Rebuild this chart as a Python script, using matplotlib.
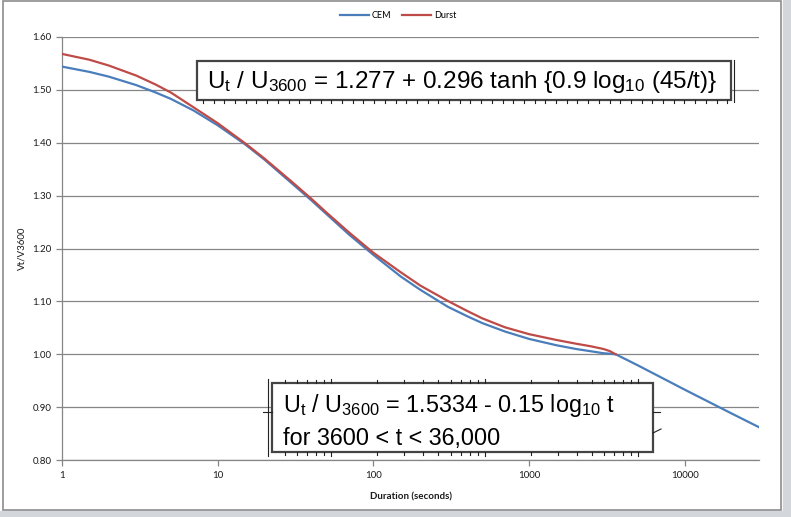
import numpy as np
import matplotlib
matplotlib.use("Agg")
from matplotlib import pyplot as plt
from matplotlib.lines import Line2D
from matplotlib.patches import Rectangle

# values
cem_t = [1, 1.5, 2, 3, 4, 5, 7, 10, 15, 20, 30, 40, 50, 70, 100, 150, 200, 300,
         400, 500, 700, 1000, 1500, 2000, 3000, 3600, 5000, 10000, 20000, 30000]
cem_v = [1.544, 1.534, 1.525, 1.509, 1.495, 1.483, 1.461, 1.433, 1.397, 1.368,
         1.323, 1.291, 1.265, 1.226, 1.188, 1.147, 1.122, 1.090, 1.072, 1.059,
         1.043, 1.029, 1.017, 1.010, 1.002, 1.000, 0.979, 0.933, 0.888, 0.862]

durst_t = [1, 1.5, 2, 3, 4, 5, 7, 10, 15, 20, 30, 40, 50, 70, 100, 150, 200, 300,
           400, 500, 700, 1000, 1500, 2000, 2500, 3000, 3300, 3600]
durst_v = [1.568, 1.557, 1.546, 1.527, 1.510, 1.495, 1.467, 1.437, 1.399, 1.370,
           1.326, 1.294, 1.268, 1.230, 1.192, 1.155, 1.130, 1.101, 1.082, 1.068,
           1.051, 1.038, 1.027, 1.020, 1.015, 1.010, 1.006, 1.000]

y_ticks = [0.80, 0.90, 1.00, 1.10, 1.20, 1.30, 1.40, 1.50, 1.60]
x_ticks = [1, 10, 100, 1000, 10000]

eq_top = "U$_t$ / U$_{3600}$ = 1.277 + 0.296 tanh {0.9 log$_{10}$ (45/t)}"
eq_bottom = "U$_t$ / U$_{3600}$ = 1.5334 - 0.15 log$_{10}$ t\nfor 3600 < t < 36,000"

W, H = 791, 517
plt.rcParams["mathtext.default"] = "regular"
plt.rcParams["font.family"] = ["Lato", "DejaVu Sans"]

fig = plt.figure(figsize=(W / 100, H / 100), dpi=100)
fig.patch.set_facecolor("white")


def fx(px):
    return px / W


def fy(py):
    return 1 - py / H


# window frame around the chart
fig.patches.append(Rectangle((fx(783), 0), fx(8), 1, transform=fig.transFigure,
                             color="#d3d6db", zorder=0))
fig.patches.append(Rectangle((0, 0), 1, fy(511), transform=fig.transFigure,
                             color="#d3d6db", zorder=0))
fig.patches.append(Rectangle((fx(3), fy(510)), fx(778), fy(1) - fy(510),
                             transform=fig.transFigure, fill=False,
                             edgecolor="#8c8c8c", lw=1.2, zorder=1))

ax = fig.add_axes([fx(62), fy(460), fx(759) - fx(62), fy(37) - fy(460)])
ax.set_xscale("log")
ax.plot(cem_t, cem_v, color="#4a7ebb", lw=1.6, label="CEM", zorder=3)
ax.plot(durst_t, durst_v, color="#be4b48", lw=1.6, label="Durst", zorder=4)

ax.set_xlim(1, 30000)
ax.set_ylim(0.80, 1.60)
ax.set_yticks(y_ticks)
ax.set_yticklabels(["%.2f" % v for v in y_ticks])
ax.set_xticks(x_ticks)
ax.set_xticklabels([str(v) for v in x_ticks])
ax.xaxis.set_minor_locator(matplotlib.ticker.NullLocator())
ax.grid(axis="y", color="#868686", lw=0.9)
ax.set_axisbelow(True)
for s in ["top", "right"]:
    ax.spines[s].set_visible(False)
for s in ["left", "bottom"]:
    ax.spines[s].set_color("#868686")
    ax.spines[s].set_linewidth(0.9)
ax.tick_params(axis="both", colors="#868686", labelcolor="#1a1a1a",
               labelsize=7, length=4, width=0.9)
ax.tick_params(axis="x", pad=4)

ax.set_xlabel("Duration (seconds)", fontsize=7, fontweight="bold",
              color="#1a1a1a", labelpad=9)
ax.set_ylabel("Vt/V3600", fontsize=7, color="#1a1a1a", labelpad=4)

leg = fig.legend(loc="center", bbox_to_anchor=(fx(398), fy(16)), ncol=2,
                 frameon=False, fontsize=6.5, handlelength=3.2,
                 columnspacing=1.2, handletextpad=0.3)

# pasted equation boxes
line_kw = dict(transform=fig.transFigure, color="#222222", lw=0.8, zorder=10)

fig.patches.append(Rectangle((fx(197), fy(100)), fx(731) - fx(197), fy(61) - fy(100),
                             transform=fig.transFigure, facecolor="white",
                             edgecolor="#444444", lw=1.6, zorder=8))
fig.lines.append(Line2D([fx(734), fx(734)], [fy(60), fy(102)], **line_kw))
for px in np.arange(203, 733, 10.7):
    fig.lines.append(Line2D([fx(px), fx(px)], [fy(100), fy(103)], **line_kw))
fig.text(fx(207), fy(82), eq_top, fontsize=17.5, family="Liberation Sans",
         va="center", ha="left", zorder=11)

fig.patches.append(Rectangle((fx(272), fy(452)), fx(653) - fx(272), fy(383) - fy(452),
                             transform=fig.transFigure, facecolor="white",
                             edgecolor="#444444", lw=1.6, zorder=8))
fig.lines.append(Line2D([fx(268), fx(268)], [fy(379), fy(456)], **line_kw))
fig.lines.append(Line2D([fx(263), fx(272)], [fy(412), fy(412)], **line_kw))
fig.lines.append(Line2D([fx(653), fx(660)], [fy(412), fy(412)], **line_kw))
fig.lines.append(Line2D([fx(653), fx(661)], [fy(433), fy(429)], **line_kw))
decade = 153.6
for k in range(-1, 3):
    for m in range(1, 10):
        px = 331 + decade * (k + np.log10(m))
        if 274 < px < 652:
            ln = 4 if m == 1 else 3
            fig.lines.append(Line2D([fx(px), fx(px)], [fy(383), fy(383 - ln)], **line_kw))
            fig.lines.append(Line2D([fx(px), fx(px)], [fy(452), fy(452 + ln)], **line_kw))
fig.text(fx(283), fy(421), eq_bottom, fontsize=16.8, family="Liberation Sans",
         va="center", ha="left", linespacing=1.45, zorder=11)

fig.savefig("out.png", dpi=100)
